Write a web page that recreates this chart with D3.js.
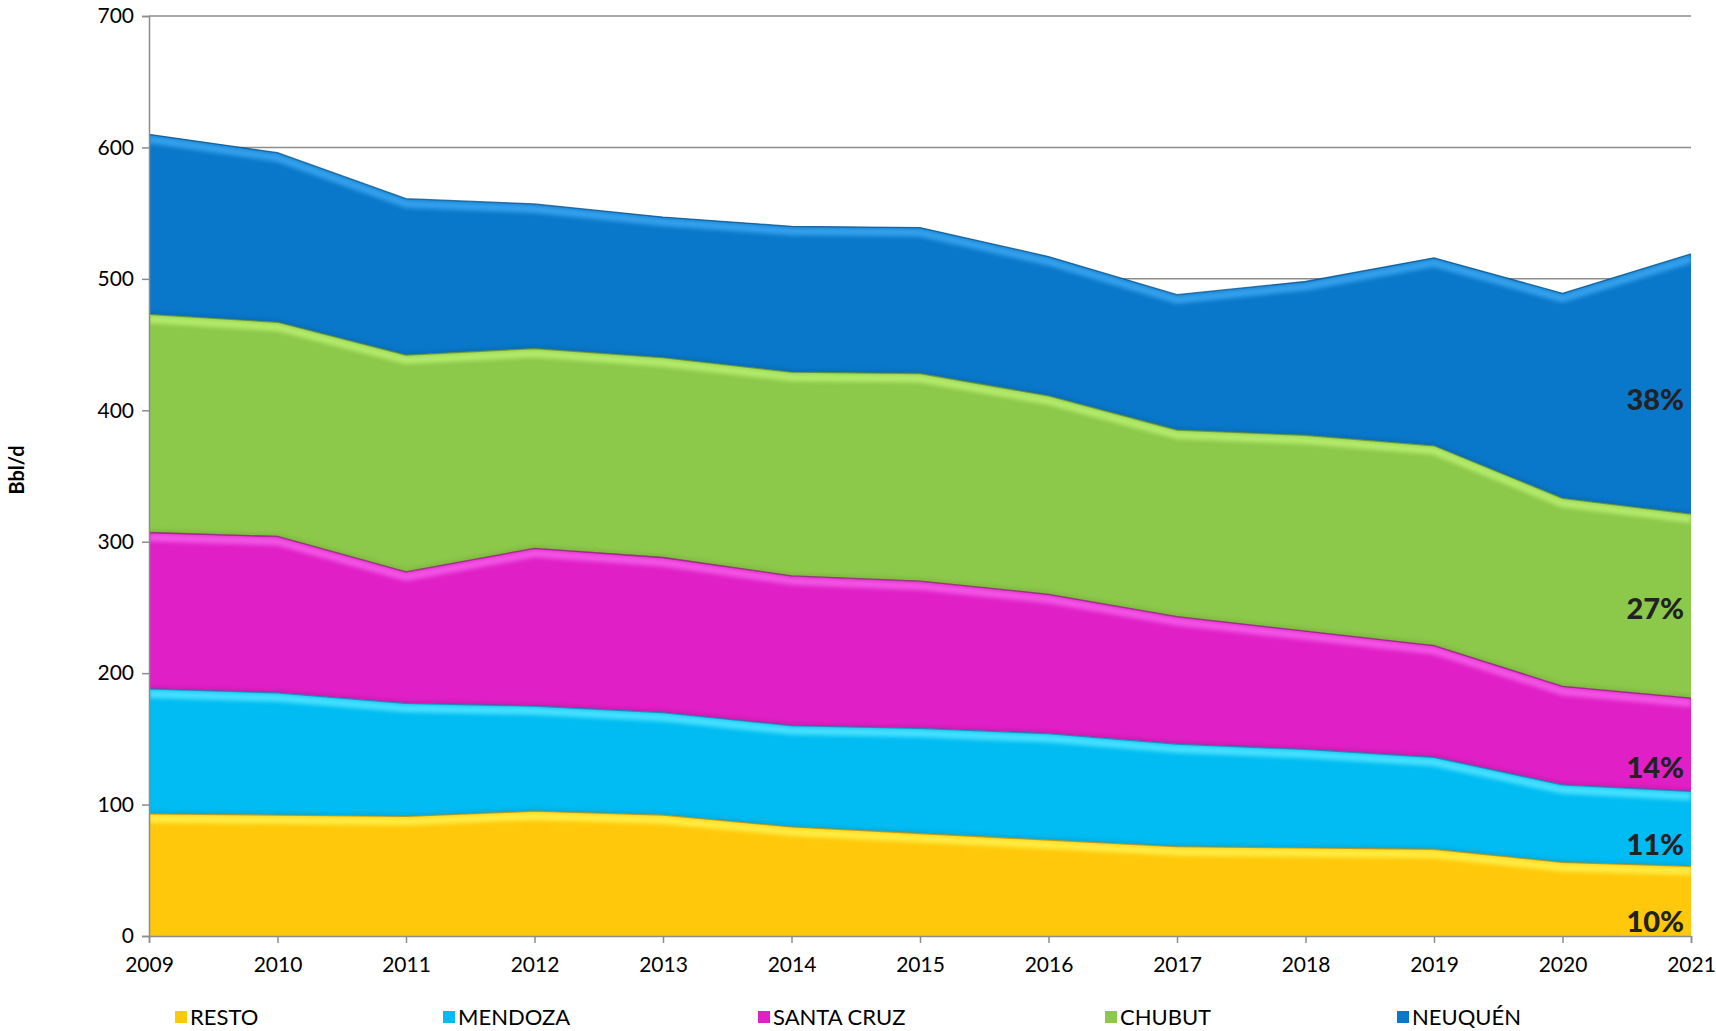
<!DOCTYPE html>
<html><head><meta charset="utf-8">
<script src="https://cdn.jsdelivr.net/npm/d3@7"></script>
<style>
html,body{margin:0;padding:0;background:#fff;}
text{font-family:Lato,"Noto Sans",sans-serif;}
</style></head>
<body><svg id="chart" width="1716" height="1031"></svg>
<script>
const years = [2009,2010,2011,2012,2013,2014,2015,2016,2017,2018,2019,2020,2021];
const seriesNames = ["RESTO","MENDOZA","SANTA CRUZ","CHUBUT","NEUQUÉN"];
const resto     = [93, 92, 91, 95, 92, 83, 78, 73, 68, 67, 66, 56, 53];
const mendoza   = [95, 93, 86, 80, 78, 77, 80, 81, 78, 75, 70, 59, 57];
const santaCruz = [119,119,100,120,118,114,112,106, 97, 90, 85, 75, 71];
const chubut    = [166,163,165,152,152,155,158,151,142,149,152,143,140];
const neuquen   = [137,129,119,110,107,111,111,106,103,117,143,156,198];
const yTicks = [0,100,200,300,400,500,600,700];
const pctLabels = ["10%","11%","14%","27%","38%"];
const colors = ["#FFC80A","#00BCF2","#E020C6","#8CC84A","#0A78CA"];
const lightColors = ["#FFF04A","#4FE4FF","#F45CE8","#B8EE6E","#3AA6F0"];
const darkColors = ["#B88A00","#0A7DA8","#8A1478","#5A8A28","#064F88"];

const data = years.map((y,i)=>({year:y,"RESTO":resto[i],"MENDOZA":mendoza[i],"SANTA CRUZ":santaCruz[i],"CHUBUT":chubut[i],"NEUQUÉN":neuquen[i]}));
const stack = d3.stack().keys(seriesNames)(data);

const svg = d3.select("#chart");
const L=149,R=1691,T=16,B=936;
const x = d3.scaleLinear().domain([2009,2021]).range([L,R]);
const y = d3.scaleLinear().domain([0,700]).range([B,T]);

// gridlines
svg.append("g").selectAll("line").data(yTicks.filter(d=>d>0)).join("line")
  .attr("x1",L).attr("x2",R).attr("y1",d=>y(d)).attr("y2",d=>y(d))
  .attr("stroke","#8c8c8c").attr("stroke-width",1.5);

const area = d3.area().x(d=>x(d.data.year)).y0(d=>y(d[0])).y1(d=>y(d[1]));
const topLine = d3.line().x(d=>x(d.data.year)).y(d=>y(d[1]));
const defs = svg.append("defs");
const f = defs.append("filter").attr("id","soft").attr("x","-5%").attr("y","-50%").attr("width","110%").attr("height","200%");
f.append("feGaussianBlur").attr("stdDeviation",2.2);
stack.forEach((s,i)=>{
  defs.append("clipPath").attr("id","clip"+i).append("path").attr("d",area(s));
});
const g = svg.append("g");
stack.forEach((s,i)=>{
  g.append("path").attr("d",area(s)).attr("fill",colors[i]);
});
// bevel highlights
stack.forEach((s,i)=>{
  const gg = g.append("g").attr("clip-path","url(#clip"+i+")");
  gg.append("path").attr("d",topLine(s)).attr("fill","none")
    .attr("stroke",lightColors[i]).attr("stroke-width",8).attr("opacity",0.9)
    .attr("filter","url(#soft)")
    .attr("transform","translate(0,5)");
  // darker bottom edge of each band
  gg.append("path").attr("d",d3.line().x(d=>x(d.data.year)).y(d=>y(d[0]))(s)).attr("fill","none")
    .attr("stroke",darkColors[i]).attr("stroke-width",4).attr("opacity",0.35)
    .attr("filter","url(#soft)");
});
stack.forEach((s,i)=>{
  g.append("path").attr("d",topLine(s)).attr("fill","none")
    .attr("stroke",darkColors[i]).attr("stroke-width",1.3).attr("opacity",0.75);
});

// axes
const yAxis = svg.append("g").attr("transform",`translate(${L},0)`)
  .call(d3.axisLeft(y).tickValues(yTicks).tickSize(7).tickPadding(8).tickFormat(d3.format("d")));
yAxis.select(".domain").attr("stroke","#8c8c8c").attr("stroke-width",1.5);
yAxis.selectAll(".tick line").attr("stroke","#8c8c8c").attr("stroke-width",1.5);
yAxis.selectAll(".tick text").attr("font-size",21).attr("fill","#000").attr("font-family","Lato");

const xAxis = svg.append("g").attr("transform",`translate(0,${B})`)
  .call(d3.axisBottom(x).tickValues(years).tickSize(7).tickPadding(14).tickFormat(d3.format("d")));
xAxis.select(".domain").attr("stroke","#8c8c8c").attr("stroke-width",1.5);
xAxis.selectAll(".tick line").attr("stroke","#8c8c8c").attr("stroke-width",1.5);
xAxis.selectAll(".tick text").attr("font-size",21).attr("fill","#000").attr("font-family","Lato");

// y title
svg.append("text").attr("transform","translate(24,470) rotate(-90)")
  .attr("text-anchor","middle").attr("font-size",20).attr("font-weight","bold").text("Bbl/d");

// percent labels
const pctY = [932,855,778,619,410];
pctLabels.forEach((t,i)=>{
  svg.append("text").attr("x",1684).attr("y",pctY[i]).attr("text-anchor","end")
    .attr("font-size",29).attr("font-weight","900").attr("fill","#222").text(t);
});

// legend
const legX = [175,443,758,1105,1397];
seriesNames.forEach((n,i)=>{
  svg.append("rect").attr("x",legX[i]).attr("y",1011).attr("width",12).attr("height",12)
    .attr("fill",colors[i]);
  svg.append("text").attr("x",legX[i]+15).attr("y",1025).attr("font-size",22).attr("fill","#000").text(n);
});
</script></body></html>
